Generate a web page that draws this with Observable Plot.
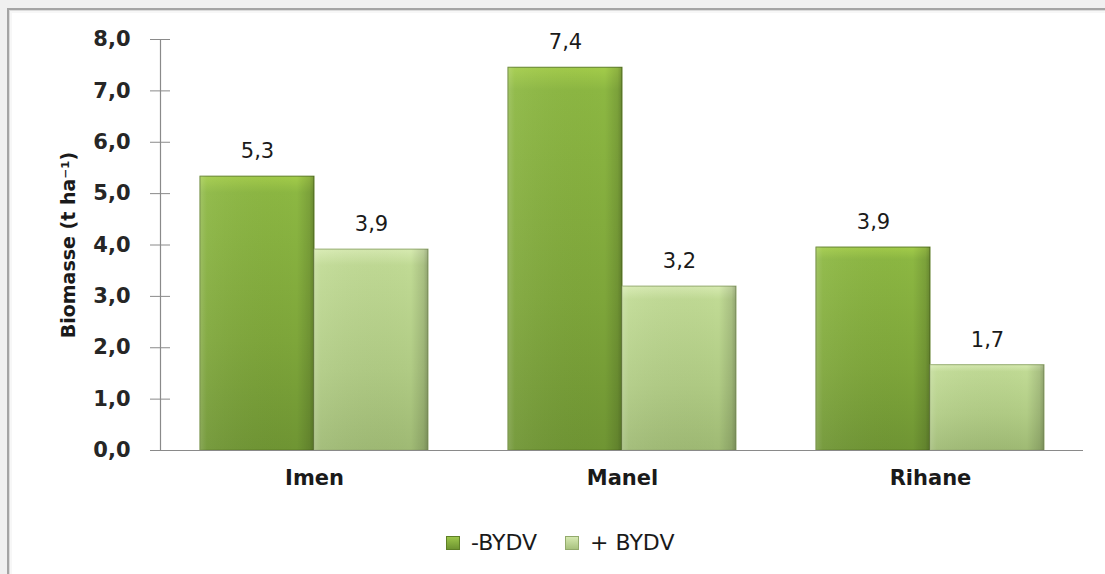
<!DOCTYPE html>
<html>
<head>
<meta charset="utf-8">
<script src="https://cdn.jsdelivr.net/npm/d3@7"></script>
<script src="https://cdn.jsdelivr.net/npm/@observablehq/plot@0.6"></script>
<style>
  html, body { margin: 0; padding: 0; background: #f0f0f0; width: 1105px; height: 574px; overflow: hidden; font-family: "DejaVu Sans", sans-serif; }
  #frame { position: absolute; left: 7px; top: 8px; width: 1200px; height: 700px; background: #fff;
           border-top: 2px solid #a4a4a4; border-left: 2px solid #a4a4a4;
           box-shadow: inset 1px 1px 0 #dcdcdc, inset 3px 3px 0 #f7f7f7; }
  #chart { position: absolute; left: 0; top: 0; width: 1105px; height: 500px; }
  #chart svg { position: absolute; left: 0; top: 0; }
  #legend { position: absolute; left: 0; top: 530px; width: 1105px; display: flex; justify-content: flex-start; gap: 28px;
            font-family: "DejaVu Sans", sans-serif; font-size: 22px; color: #1a1a1a; padding-left: 446px; box-sizing: border-box; }
  .item { display: flex; align-items: center; gap: 11px; }
  .sw { width: 12px; height: 12px; display: inline-block; }
</style>
</head>
<body>
<div id="frame"></div>
<div id="chart"></div>
<div id="legend"></div>
<script>
const categories = ["Imen", "Manel", "Rihane"];
const series = ["-BYDV", "+ BYDV"];
const valuesMinus = [5.33, 7.45, 3.95];
const valuesPlus = [3.91, 3.19, 1.66];
const labelsMinus = ["5,3", "7,4", "3,9"];
const labelsPlus = ["3,9", "3,2", "1,7"];
const yTicks = [0, 1, 2, 3, 4, 5, 6, 7, 8];
const yTitle = "Biomasse (t ha⁻¹)";

const data = [];
categories.forEach((c, i) => {
  data.push({cat: c, s: series[0], v: valuesMinus[i], label: labelsMinus[i]});
  data.push({cat: c, s: series[1], v: valuesPlus[i], label: labelsPlus[i]});
});

const fillOf = s => s === series[0] ? "url(#gDark)" : "url(#gLight)";
const strokeOf = s => s === series[0] ? "#5e7f26" : "#93aa6c";
const fmt = d => d.toFixed(1).replace(".", ",");
const FONT = "'DejaVu Sans', sans-serif";

const common = {
  width: 1105,
  height: 500,
  marginLeft: 160,
  marginRight: 22,
  marginTop: 39,
  marginBottom: 50,
  style: {background: "transparent", fontFamily: FONT, overflow: "visible"}
};

const plot = Plot.plot({
  ...common,
  fx: {domain: categories, paddingInner: 0.26, paddingOuter: 0.128, label: null, axis: null},
  x: {domain: series, padding: 0, axis: null, label: null},
  y: {domain: [0, 8], label: null, axis: null},
  marks: [
    Plot.barY(data, {fx: "cat", x: "s", y: "v", fill: d => fillOf(d.s), stroke: d => strokeOf(d.s), strokeWidth: 1}),
    Plot.barY(data, {fx: "cat", x: "s", y: "v", fill: "url(#gHi)"}),
    Plot.text(data, {fx: "cat", x: "s", y: "v", text: "label", dy: -25, fontSize: 21, fill: "#1a1a1a", lineAnchor: "middle"}),
    Plot.axisFx({anchor: "bottom", tickSize: 0, tickPadding: 20, fontSize: 21, fontWeight: "bold", fill: "#1a1a1a", label: null})
  ]
});

const axes = Plot.plot({
  ...common,
  x: {domain: [0, 1], axis: null},
  y: {domain: [0, 8], label: null, axis: null},
  marks: [
    Plot.ruleY([0], {stroke: "#8a8a8a", strokeWidth: 1.2}),
    Plot.ruleX([0], {stroke: "#8a8a8a", strokeWidth: 1.2}),
    Plot.axisY({ticks: yTicks, tickSize: 20, dx: 10, stroke: "#8a8a8a", tickFormat: () => "", label: null}),
    Plot.axisY({ticks: yTicks, tickSize: 0, tickPadding: 30, tickFormat: fmt, fontSize: 21, fontWeight: "bold", fill: "#262626", label: null}),
    Plot.text([yTitle], {frameAnchor: "left", dx: -92, rotate: -90, text: d => d, fontSize: 19, fontWeight: "bold", fill: "#1a1a1a", textAnchor: "middle", lineAnchor: "middle"})
  ]
});

const wrap = document.getElementById("chart");
wrap.appendChild(plot);
wrap.appendChild(axes);

// gradients
const defs = d3.select(plot).insert("defs", ":first-child");
const gd = defs.append("linearGradient").attr("id", "gDark").attr("x1", 0).attr("y1", 0).attr("x2", 0).attr("y2", 1);
gd.append("stop").attr("offset", "0%").attr("stop-color", "#a3cc4a");
gd.append("stop").attr("offset", "6%").attr("stop-color", "#8cb742");
gd.append("stop").attr("offset", "60%").attr("stop-color", "#7ea63a");
gd.append("stop").attr("offset", "100%").attr("stop-color", "#6f9533");
const gl = defs.append("linearGradient").attr("id", "gLight").attr("x1", 0).attr("y1", 0).attr("x2", 0).attr("y2", 1);
gl.append("stop").attr("offset", "0%").attr("stop-color", "#d6eab0");
gl.append("stop").attr("offset", "8%").attr("stop-color", "#c0da94");
gl.append("stop").attr("offset", "60%").attr("stop-color", "#b0cb84");
gl.append("stop").attr("offset", "100%").attr("stop-color", "#9fba74");
const gh = defs.append("linearGradient").attr("id", "gHi").attr("x1", 0).attr("y1", 0).attr("x2", 1).attr("y2", 0);
gh.append("stop").attr("offset", "0%").attr("stop-color", "#ffffff").attr("stop-opacity", 0.18);
gh.append("stop").attr("offset", "6%").attr("stop-color", "#ffffff").attr("stop-opacity", 0.06);
gh.append("stop").attr("offset", "85%").attr("stop-color", "#000000").attr("stop-opacity", 0.0);
gh.append("stop").attr("offset", "96%").attr("stop-color", "#000000").attr("stop-opacity", 0.12);
gh.append("stop").attr("offset", "100%").attr("stop-color", "#000000").attr("stop-opacity", 0.25);

// legend
const legend = document.getElementById("legend");
series.forEach(s => {
  const it = document.createElement("span"); it.className = "item";
  const sw = document.createElement("span"); sw.className = "sw";
  sw.style.background = s === series[0] ? "linear-gradient(#9cc64a,#6e9431)" : "linear-gradient(#d6e9b2,#a8c27e)";
  sw.style.border = "1px solid " + strokeOf(s);
  const tx = document.createElement("span"); tx.textContent = s;
  it.appendChild(sw); it.appendChild(tx); legend.appendChild(it);
});
</script>
</body>
</html>
